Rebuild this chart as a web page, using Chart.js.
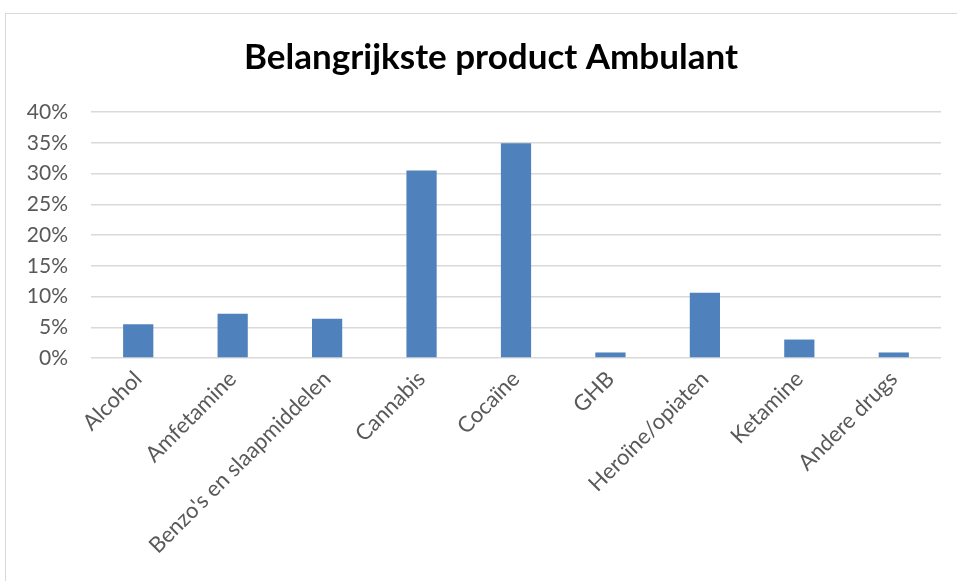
<!DOCTYPE html>
<html>
<head>
<meta charset="utf-8">
<script src="https://cdn.jsdelivr.net/npm/chart.js@4"></script>
<style>
  html, body { margin: 0; padding: 0; background: #fff; }
  #wrap { position: relative; width: 957px; height: 581px; }
  #frame { position: absolute; left: 5px; top: 13px; width: 960px; height: 580px; border: 1px solid #d9d9d9; box-sizing: border-box; }
  canvas { position: absolute; left: 0; top: 0; }
</style>
</head>
<body>
<div id="wrap">
  <div id="frame"></div>
  <canvas id="myChart" width="957" height="581"></canvas>
</div>
<script>
const categories = ['Alcohol', 'Amfetamine', "Benzo's en slaapmiddelen", 'Cannabis', 'Cocaïne', 'GHB', 'Heroïne/opiaten', 'Ketamine', 'Andere drugs'];
const values = [5.5, 7.2, 6.4, 30.5, 34.9, 0.9, 10.6, 3.0, 0.9];
const yTicks = [0, 5, 10, 15, 20, 25, 30, 35, 40];
const title = 'Belangrijkste product Ambulant';

const data = {
  labels: categories,
  datasets: [{
    label: title,
    data: values,
    backgroundColor: '#4f81bd',
    categoryPercentage: 1,
    barPercentage: 0.32
  }]
};

// title centred over the whole frame, not just the chart box
const frameTitle = {
  id: 'frameTitle',
  afterDraw(chart) {
    const { ctx } = chart;
    ctx.save();
    ctx.font = 'bold 35px Lato';
    ctx.fillStyle = '#000';
    ctx.textAlign = 'center';
    ctx.textBaseline = 'middle';
    ctx.fillText(title, 491, 58);
    ctx.restore();
  }
};

const config = {
  type: 'bar',
  data,
  options: {
    responsive: false,
    animation: false,
    layout: { padding: { left: 0, right: 16, top: 112, bottom: 0 } },
    plugins: {
      legend: { display: false },
      tooltip: { enabled: false },
      title: { display: false }
    },
    scales: {
      x: {
        grid: { display: false },
        border: { display: false },
        ticks: {
          color: '#595959',
          font: { family: 'Lato', size: 22 },
          minRotation: 45,
          maxRotation: 45,
          padding: 0
        },
        afterFit(scale) { scale.height = 223; }
      },
      y: {
        min: 0,
        max: 40,
        afterBuildTicks(scale) { scale.ticks = yTicks.map(v => ({ value: v })); },
        grid: { color: '#d9d9d9', lineWidth: 1.5, drawTicks: false },
        border: { display: false },
        ticks: {
          color: '#595959',
          font: { family: 'Lato', size: 21 },
          padding: 23,
          callback: (v) => v + '%'
        },
        afterFit(scale) { scale.width = 91; }
      }
    }
  },
  plugins: [frameTitle]
};

const myChart = new Chart(document.getElementById('myChart'), config);
</script>
</body>
</html>
